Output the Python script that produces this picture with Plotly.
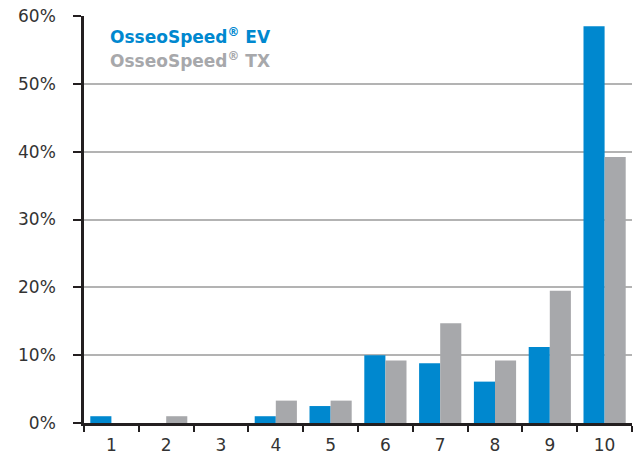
import plotly.graph_objects as go

categories = ["1", "2", "3", "4", "5", "6", "7", "8", "9", "10"]
ev_values = [1.0, 0.0, 0.0, 1.0, 2.5, 10.0, 8.8, 6.1, 11.2, 58.5]
tx_values = [0.0, 1.0, 0.0, 3.3, 3.3, 9.2, 14.7, 9.2, 19.5, 39.2]
series_names = ["OsseoSpeed<sup>®</sup> EV", "OsseoSpeed<sup>®</sup> TX"]
y_ticks = [0, 10, 20, 30, 40, 50, 60]
y_tick_labels = ["0%", "10%", "20%", "30%", "40%", "50%", "60%"]

BLUE = "#0088CF"
GRAY = "#A7A8AB"
FONT = "DejaVu Sans"

fig = go.Figure()
fig.add_trace(go.Bar(x=categories, y=ev_values, name=series_names[0], marker_color=BLUE, marker_line_width=0))
fig.add_trace(go.Bar(x=categories, y=tx_values, name=series_names[1], marker_color=GRAY, marker_line_width=0))

fig.update_layout(
    width=637, height=458,
    margin=dict(l=84, r=5, t=16, b=35),
    paper_bgcolor="white", plot_bgcolor="white",
    barmode="group", bargap=0.23, bargroupgap=0,
    showlegend=False,
    font=dict(family=FONT, size=17, color="#333333"),
)
fig.update_xaxes(
    type="category", showline=True, linecolor="#231F20", linewidth=2.5,
    ticks="outside", tickson="boundaries", ticklen=6, tickwidth=2, tickcolor="#231F20",
    showgrid=False, tickfont=dict(size=17, color="#333333"), ticklabelstandoff=5,
    automargin=False,
)
fig.update_yaxes(
    range=[0, 60], tickvals=y_ticks, ticktext=y_tick_labels,
    showline=True, linecolor="#231F20", linewidth=2.5,
    ticks="outside", ticklen=8, tickwidth=2, tickcolor="#231F20",
    showgrid=True, gridcolor="#B3B3B3", gridwidth=2, zeroline=False,
    tickfont=dict(size=17, color="#333333"), ticklabelstandoff=14,
    automargin=False,
)
fig.add_annotation(xref="paper", yref="paper", x=0.044, y=0.951, xanchor="left", yanchor="middle",
                   text="<b>" + series_names[0] + "</b>", showarrow=False,
                   font=dict(family=FONT, size=17, color=BLUE))
fig.add_annotation(xref="paper", yref="paper", x=0.044, y=0.892, xanchor="left", yanchor="middle",
                   text="<b>" + series_names[1] + "</b>", showarrow=False,
                   font=dict(family=FONT, size=17, color=GRAY))

fig.write_html("out.html", config={"displayModeBar": False},
               post_script="document.body.style.margin='0';document.body.style.overflow='hidden';")
